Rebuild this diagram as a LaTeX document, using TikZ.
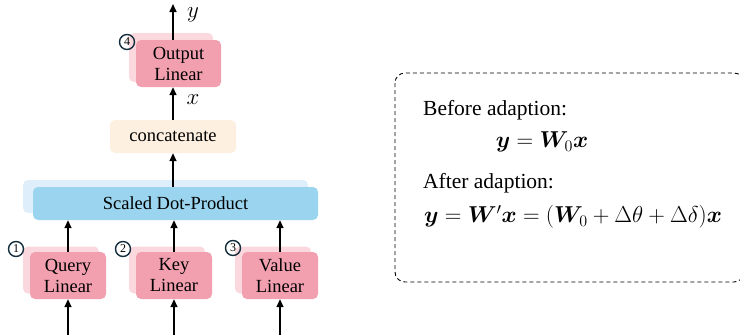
\RequirePackage{fix-cm}
\documentclass[tikz,border=0pt]{standalone}
\usepackage{fontspec}
\setmainfont{Liberation Serif}
\usepackage{amsmath,bm}
\usetikzlibrary{arrows.meta}
\definecolor{pinkF}{RGB}{242,160,176}
\definecolor{pinkB}{RGB}{250,216,222}
\definecolor{blueF}{RGB}{154,212,238}
\definecolor{blueB}{RGB}{222,238,250}
\definecolor{peach}{RGB}{253,240,224}
\definecolor{navy}{RGB}{20,45,60}
\tikzset{
  lin/.style={fill=pinkF, rounded corners=5pt, minimum width=76pt, minimum height=47pt, inner sep=0pt, align=center, font=\fontsize{18.5}{21}\selectfont},
  linback/.style={fill=pinkB, rounded corners=5pt, minimum width=76pt, minimum height=47pt, inner sep=0pt},
  numc/.style={circle, draw=navy, line width=1.4pt, minimum size=15pt, inner sep=0pt, font=\fontsize{12}{12}\selectfont},
  arr/.style={line width=1.6pt, -{Triangle[length=8pt,width=7pt]}},
  flat/.style={rounded corners=5pt, inner sep=0pt, font=\fontsize{18.5}{21}\selectfont},
  lbl/.style={font=\fontsize{23}{23}\selectfont, inner sep=0pt},
  rtext/.style={anchor=west, inner sep=0pt, font=\fontsize{21.5}{24}\selectfont},
  req/.style={inner sep=0pt, font=\fontsize{23}{26}\selectfont}
}
\begin{document}
\begin{tikzpicture}[x=1pt,y=-1pt]
\useasboundingbox (0,0) rectangle (740,335);
% back shadows
\node[linback] at (61,270) {};
\node[linback] at (167,270) {};
\node[linback] at (273,270) {};
\node[linback, minimum width=84pt, minimum height=49pt] at (171,57.5) {};
\node[flat, fill=blueB, minimum width=285pt, minimum height=33pt] at (165.5,196.5) {};
% front boxes
\node[lin] (q) at (68,275.5) {Query\\Linear};
\node[lin] (k) at (174,275.5) {Key\\Linear};
\node[lin] (v) at (280,275.5) {Value\\Linear};
\node[lin, minimum width=85pt] (o) at (178.5,63.5) {Output\\Linear};
\node[flat, fill=blueF, minimum width=285pt, minimum height=33pt] (s) at (175.5,203.5) {Scaled Dot-Product};
\node[flat, fill=peach, minimum width=126pt, minimum height=33pt] (c) at (173,136.5) {concatenate};
% numbers
\node[numc] (n1) at (16,249) {1};
\node[numc] (n2) at (123,249) {2};
\node[numc] (n3) at (233,248) {3};
\node[numc] (n4) at (127,42) {4};
% free ends
\coordinate (qi) at (68,335);
\coordinate (ki) at (174,335);
\coordinate (vi) at (280,335);
\coordinate (yo) at (173,4);
% arrows
\draw[arr] (qi) -- (q.south);
\draw[arr] (ki) -- (k.south);
\draw[arr] (vi) -- (v.south);
\draw[arr] (q.north) -- (q.north |- s.south);
\draw[arr] (k.north) -- (k.north |- s.south);
\draw[arr] (v.north) -- (v.north |- s.south);
\draw[arr] (c.south |- s.north) -- (c.south);
\draw[arr] (c.north) -- (c.north |- o.south);
\draw[arr] (yo |- o.north) -- (yo);
\node[lbl] (xl) at (193,100) {$x$};
\node[lbl] (yl) at (193,15) {$y$};
% right panel
\draw[dashed, line width=0.9pt, rounded corners=10pt, dash pattern=on 4pt off 3pt] (395,73) rectangle (744,282);
\node[rtext] (b) at (423,110) {Before adaption:};
\node[req] (e1) at (542,142) {$\bm{y}=\bm{W}_0\bm{x}$};
\node[rtext] (a) at (423,183) {After adaption:};
\node[req] (e2) at (573,217) {$\bm{y}=\bm{W}'\bm{x}=(\bm{W}_0+\Delta\theta+\Delta\delta)\bm{x}$};
\end{tikzpicture}
\end{document}
